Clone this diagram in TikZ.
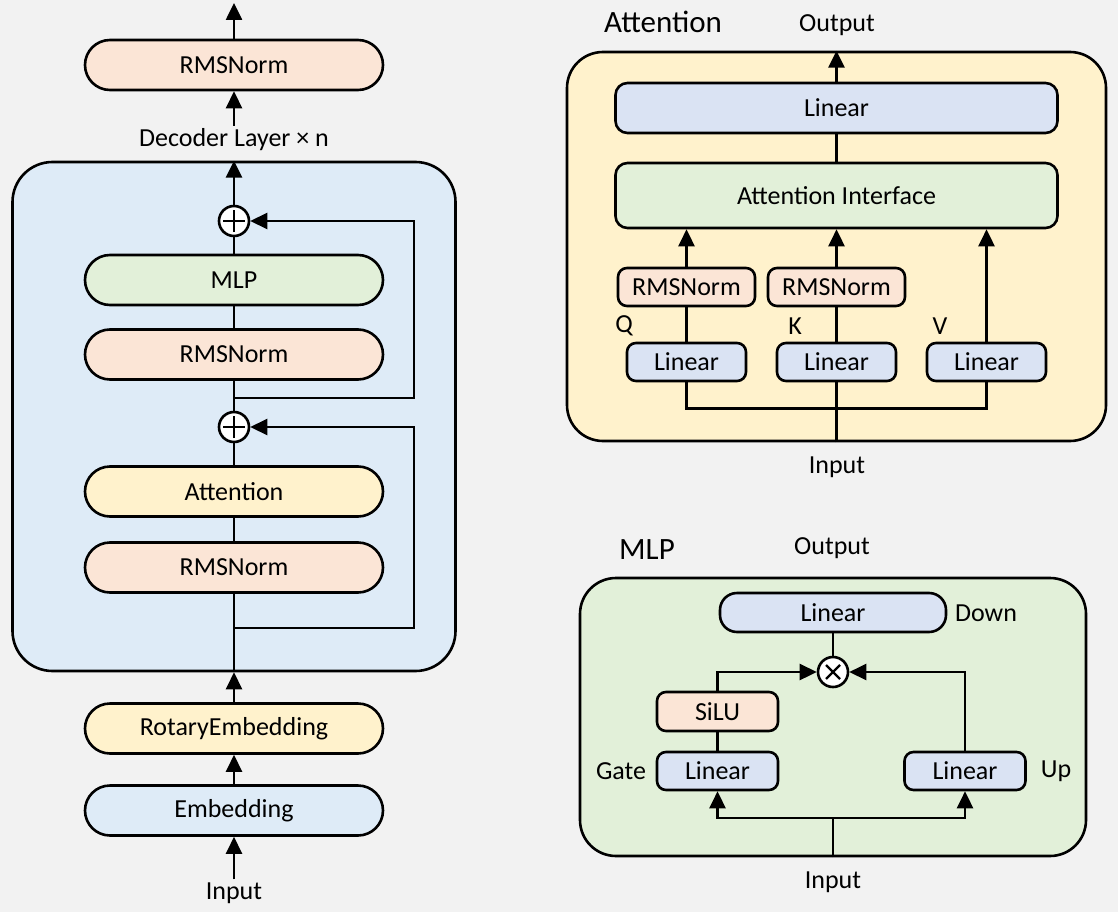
\documentclass[tikz,border=0pt]{standalone}
\usepackage{fontspec}
\setmainfont{Carlito}
\usetikzlibrary{arrows.meta, positioning, calc}
\definecolor{bggray}{RGB}{242, 242, 242}
\definecolor{normpeach}{RGB}{251, 229, 214}
\definecolor{mlpgreen}{RGB}{226, 240, 217}
\definecolor{attnyellow}{RGB}{255, 242, 204}
\definecolor{embedblue}{RGB}{222, 235, 247}
\definecolor{linearblue}{RGB}{218, 227, 243}
\newcommand{\boxfont}{\fontsize{26}{31}\selectfont}
\newcommand{\titlefont}{\fontsize{31}{36}\selectfont}

\begin{document}
\begin{tikzpicture}[
    x=1pt, y=-1pt,
    line width=2.6pt,
    pill/.style={draw, rounded corners=25pt, minimum width=298pt, minimum height=50pt, font=\boxfont, inner sep=0pt},
    block/.style={draw, rounded corners=12pt, minimum width=442pt, minimum height=50pt, font=\boxfont, inner sep=0pt},
    unitbox/.style={draw, rounded corners=9pt, minimum height=38pt, font=\boxfont, inner sep=0pt},
    panel/.style={draw, rounded corners=36pt, inner sep=0pt},
    txt/.style={font=\boxfont, inner sep=2pt},
    arr/.style={-{Triangle[length=17pt,width=16pt]}},
    addnode/.style={draw, circle, fill=white, minimum size=30pt, inner sep=0pt,
        path picture={\draw[line width=2.2pt]
            ([xshift=-11pt]path picture bounding box.center) -- ([xshift=11pt]path picture bounding box.center)
            ([yshift=-11pt]path picture bounding box.center) -- ([yshift=11pt]path picture bounding box.center);}},
    mulnode/.style={draw, circle, fill=white, minimum size=30pt, inner sep=0pt,
        path picture={\draw[line width=2.2pt]
            ([shift={(-7pt,-7pt)}]path picture bounding box.center) -- ([shift={(7pt,7pt)}]path picture bounding box.center)
            ([shift={(-7pt,7pt)}]path picture bounding box.center) -- ([shift={(7pt,-7pt)}]path picture bounding box.center);}}
]
    % Background
    \useasboundingbox (0,0) rectangle (1118,912);
    \fill[bggray] (0,0) rectangle (1118,912);

    % ---------- Decoder stack (left) ----------
    \node[pill, fill=normpeach] (topnorm) at (234,65) {RMSNorm};
    \coordinate (topout) at (234,3);
    \node[txt] (declabel) at (234,140) {Decoder Layer × n};

    % Decoder layer box
    \node[panel, rounded corners=40pt, fill=embedblue, minimum width=443pt, minimum height=509pt] (decbox) at (234,416.5) {};

    \node[addnode] (addA) at (234,221) {};
    \node[pill, fill=mlpgreen] (mlpnode) at (234,280) {MLP};
    \node[pill, fill=normpeach] (normB) at (234,354.5) {RMSNorm};
    \node[addnode] (addB) at (234,427) {};
    \node[pill, fill=attnyellow] (attnnode) at (234,491.5) {Attention};
    \node[pill, fill=normpeach] (normC) at (234,567.5) {RMSNorm};
    \coordinate (branchB) at (234,398);
    \coordinate (branchC) at (234,628);

    % Below the layer box
    \node[pill, fill=attnyellow] (rotary) at (234,728.5) {RotaryEmbedding};
    \node[pill, fill=embedblue] (embed) at (234,810.5) {Embedding};
    \node[txt] (inlabel) at (234,893) {Input};

    % Connectors
    \draw[arr] (inlabel) -- (embed);
    \draw[arr] (embed) -- (rotary);
    \draw[arr] (rotary) -- (decbox.south);
    \draw (decbox.south) -- (normC);
    \draw (normC) -- (attnnode);
    \draw (attnnode) -- (addB);
    \draw (addB) -- (normB);
    \draw (normB) -- (mlpnode);
    \draw (mlpnode) -- (addA);
    \draw[arr] (addA) -- (decbox.north);
    \draw[arr] (declabel) -- (topnorm);
    \draw[arr] (topnorm) -- (topout);

    % Residual paths
    \draw[arr] (branchC) -- ++(180,0) |- (addB);
    \draw[arr] (branchB) -- ++(180,0) |- (addA);

    % ---------- Attention (top right) ----------
    \node[panel, fill=attnyellow, minimum width=539pt, minimum height=389pt] (attbox) at (836.5,246.5) {};
    \node[font=\titlefont, inner sep=0pt] (atttitle) at (663,22) {Attention};
    \node[txt] (attout) at (837,25) {Output};

    \node[block, fill=linearblue] (attlin) at (836.5,108) {Linear};
    \node[block, fill=mlpgreen, minimum height=65pt] (attif) at (836.5,195.5) {Attention Interface};

    \node[unitbox, fill=normpeach, minimum width=137pt] (normQ) at (686.5,287) {RMSNorm};
    \node[unitbox, fill=normpeach, minimum width=137pt] (normK) at (836.5,287) {RMSNorm};

    \node[unitbox, fill=linearblue, minimum width=119pt] (linQ) at (686.5,362) {Linear};
    \node[unitbox, fill=linearblue, minimum width=119pt] (linK) at (836.5,362) {Linear};
    \node[unitbox, fill=linearblue, minimum width=119pt] (linV) at (986.5,362) {Linear};

    \node[txt] (qlabel) at (624,326) {Q};
    \node[txt] (klabel) at (795,326) {K};
    \node[txt] (vlabel) at (940,326) {V};
    \node[txt] (attin) at (837,467) {Input};

    \draw[arr] (attlin.north) -- (attlin.north |- attbox.north);
    \draw (attif) -- (attlin);
    \draw[arr] (normQ) -- (normQ |- attif.south);
    \draw[arr] (normK) -- (normK |- attif.south);
    \draw[arr] (linV) -- (linV |- attif.south);
    \draw (linQ) -- (normQ);
    \draw (linK) -- (normK);
    \draw (linQ.south) -- ++(0,26) -| (linV.south);
    \draw (attbox.south) -- (linK.south);

    % ---------- MLP (bottom right) ----------
    \node[panel, fill=mlpgreen, minimum width=506pt, minimum height=278pt] (mlpbox) at (833,717) {};
    \node[font=\titlefont, inner sep=0pt] (mlptitle) at (647,550) {MLP};
    \node[txt] (mlpout) at (832,548) {Output};

    \node[unitbox, fill=linearblue, rounded corners=17pt, minimum width=226pt, minimum height=39pt] (down) at (833,612.5) {Linear};
    \node[txt] (downlbl) at (986,613) {Down};
    \node[mulnode] (mul) at (833,672) {};
    \node[unitbox, fill=normpeach, minimum width=121pt, minimum height=39pt] (silu) at (717.5,711.5) {SiLU};
    \node[unitbox, fill=linearblue, minimum width=121pt] (gate) at (717.5,771) {Linear};
    \node[txt] (gatelbl) at (621,771) {Gate};
    \node[unitbox, fill=linearblue, minimum width=121pt] (up) at (965,771) {Linear};
    \node[txt] (uplbl) at (1056,771) {Up};
    \coordinate (mlpbus) at (833,818);
    \node[txt] (mlpin) at (833,882) {Input};

    \draw (down) -- (mul);
    \draw (gate) -- (silu);
    \draw[arr] (silu.north) |- (mul);
    \draw[arr] (up.north) |- (mul);
    \draw[arr] (mlpbus) -| (gate.south);
    \draw[arr] (mlpbus) -| (up.south);
    \draw (mlpbox.south) -- (mlpbus);

\end{tikzpicture}
\end{document}
